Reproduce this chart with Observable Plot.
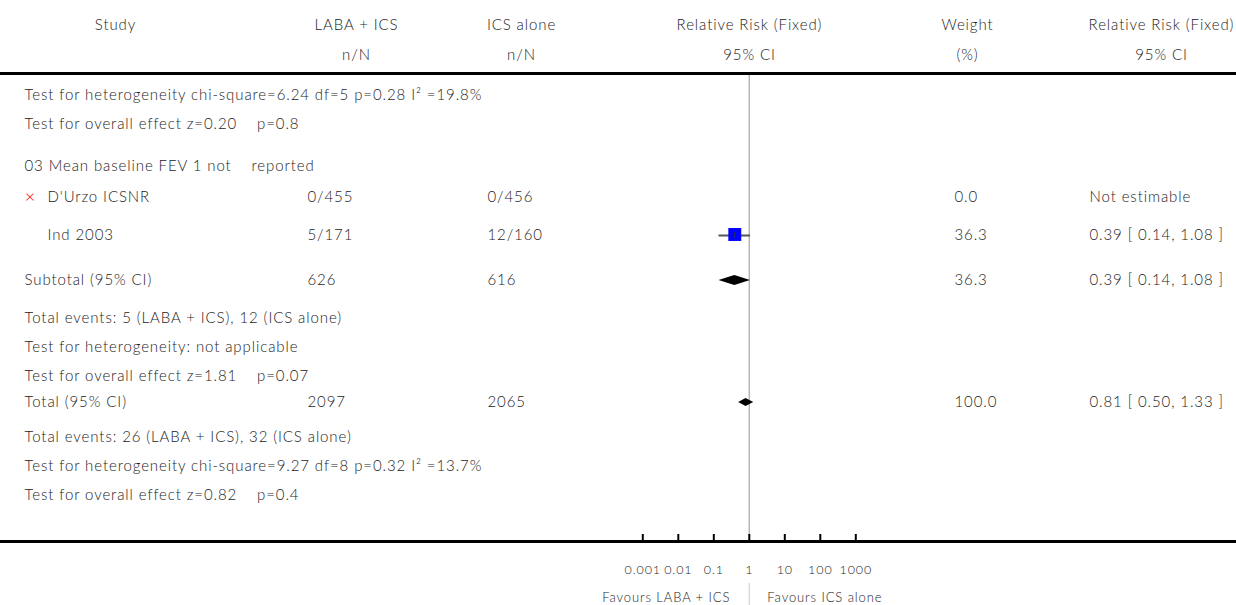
<!DOCTYPE html>
<html><head><meta charset="utf-8">
<script src="https://cdn.jsdelivr.net/npm/d3@7"></script>
<script src="https://cdn.jsdelivr.net/npm/@observablehq/plot@0.6"></script>
<style>body{margin:0;background:#fff} svg{display:block} svg text{letter-spacing:0.9px}</style>
</head><body><div id="chart"></div>
<script>
// ---------- data ----------
const headerTop = ["Study", "LABA + ICS", "ICS alone", "Relative Risk (Fixed)", "Weight", "Relative Risk (Fixed)"];
const headerBottom = ["", "n/N", "n/N", "95% CI", "(%)", "95% CI"];

const studyNames = ["D'Urzo ICSNR", "Ind 2003"];
const studyLaba = ["0/455", "5/171"];
const studyIcs = ["0/456", "12/160"];
const studyWeight = ["0.0", "36.3"];
const studyRR = [null, 0.39];
const studyLo = [null, 0.14];
const studyHi = [null, 1.08];
const studyRRText = ["Not estimable", "0.39 [ 0.14, 1.08 ]"];
const studyExcluded = [true, false];

const summaryNames = ["Subtotal (95% CI)", "Total (95% CI)"];
const summaryLaba = ["626", "2097"];
const summaryIcs = ["616", "2065"];
const summaryWeight = ["36.3", "100.0"];
const summaryRR = [0.39, 0.81];
const summaryLo = [0.14, 0.50];
const summaryHi = [1.08, 1.33];
const summaryRRText = ["0.39 [ 0.14, 1.08 ]", "0.81 [ 0.50, 1.33 ]"];

const noteLines = [
  "Test for heterogeneity chi-square=6.24 df=5 p=0.28 I\u00B2 =19.8%",
  "Test for overall effect z=0.20    p=0.8",
  "03 Mean baseline FEV 1 not    reported",
  "Total events: 5 (LABA + ICS), 12 (ICS alone)",
  "Test for heterogeneity: not applicable",
  "Test for overall effect z=1.81    p=0.07",
  "Total events: 26 (LABA + ICS), 32 (ICS alone)",
  "Test for heterogeneity chi-square=9.27 df=8 p=0.32 I\u00B2 =13.7%",
  "Test for overall effect z=0.82    p=0.4"
];

const axisTicks = [0.001, 0.01, 0.1, 1, 10, 100, 1000];
const axisTickLabels = ["0.001", "0.01", "0.1", "1", "10", "100", "1000"];
const favoursLabels = ["Favours LABA + ICS", "Favours ICS alone"];

// ---------- layout (pixel positions) ----------
const W = 1236, H = 605;
const headerCols = [115, 356, 521, 749, 967, 1161];
const colLeft = 24, colStudy = 47, colLaba = 307, colIcs = 487, colWeight = 954, colRR = 1089;
const yHead1 = 25, yHead2 = 55, yHeadLine = 73;
const noteY = [95, 124, 166, 318, 347, 376, 437, 466, 495];
const studyY = [197, 235];
const summaryY = [280, 402];
const summaryHalf = [5, 4];
const yAxis = 541, yTickLabel = 569, yFavours = 597;

// ---------- build tables ----------
const notes = noteLines.map((t, i) => ({t, y: noteY[i]}));
const studies = studyNames.map((name, i) => ({
  name, laba: studyLaba[i], ics: studyIcs[i], weight: studyWeight[i],
  rr: studyRR[i], lo: studyLo[i], hi: studyHi[i], rrText: studyRRText[i],
  excluded: studyExcluded[i], y: studyY[i]
}));
const summaries = summaryNames.map((name, i) => ({
  name, laba: summaryLaba[i], ics: summaryIcs[i], weight: summaryWeight[i],
  rr: summaryRR[i], lo: summaryLo[i], hi: summaryHi[i], rrText: summaryRRText[i], y: summaryY[i], h: summaryHalf[i]
}));
const estimable = studies.filter(d => d.rr != null);
const diamondPts = summaries.flatMap((d, k) => [
  {k, x: d.lo, y1: d.y, y2: d.y},
  {k, x: d.rr, y1: d.y - d.h, y2: d.y + d.h},
  {k, x: d.hi, y1: d.y, y2: d.y}
]);
const ticks = axisTicks.map((v, i) => ({v, label: axisTickLabels[i]}));

const txt = "#1c1c1c";
const fs = 15;
const colText = (data, field, dx) => Plot.text(data, {
  y: "y", text: field, frameAnchor: "left", dx, textAnchor: "start", fill: txt, fontSize: fs
});
const headerMarks = headerTop.flatMap((t, i) => [
  Plot.text([t], {y: () => yHead1, text: d => d, frameAnchor: "left", dx: headerCols[i], textAnchor: "middle", fill: txt, fontSize: fs}),
  Plot.text([headerBottom[i]], {y: () => yHead2, text: d => d, frameAnchor: "left", dx: headerCols[i], textAnchor: "middle", fill: txt, fontSize: fs})
]);

const plot = Plot.plot({
  width: W, height: H,
  marginTop: 0, marginRight: 0, marginBottom: 0, marginLeft: 0,
  style: {fontFamily: "Lato, 'Open Sans', sans-serif", fontWeight: 300, background: "#fff"},
  x: {type: "log", domain: [0.001, 1000], range: [642.3, 855.3], axis: null},
  y: {type: "linear", domain: [0, H], range: [0, H], axis: null},
  marks: [
    ...headerMarks,
    // vertical line at RR = 1
    Plot.ruleX([1], {y1: yHeadLine + 2, y2: yAxis, stroke: "#b5b5b5", strokeWidth: 1.5}),
    Plot.ruleX([1], {y1: yFavours - 14, y2: H, stroke: "#dcdcdc", strokeWidth: 1.5}),
    // horizontal rules
    Plot.ruleY([yHeadLine], {stroke: "#000", strokeWidth: 3}),
    Plot.ruleY([yAxis], {stroke: "#000", strokeWidth: 3}),
    // axis ticks
    Plot.ruleX(ticks, {x: "v", y1: yAxis - 7, y2: yAxis, stroke: "#000", strokeWidth: 2}),
    Plot.text(ticks, {x: "v", y: () => yTickLabel, text: "label", fill: txt, fontSize: 12.5}),
    Plot.text([favoursLabels[0]], {x: () => 1, y: () => yFavours, text: d => d, dx: -19, textAnchor: "end", fill: txt, fontSize: 13}),
    Plot.text([favoursLabels[1]], {x: () => 1, y: () => yFavours, text: d => d, dx: 18, textAnchor: "start", fill: txt, fontSize: 13}),
    // study CI lines + boxes
    Plot.ruleY(estimable, {y: "y", x1: "lo", x2: "hi", stroke: "#555", strokeWidth: 2}),
    Plot.dot(estimable, {x: "rr", y: d => d.y - 1, symbol: "square", r: 7.3, fill: "#0000ff", stroke: null}),
    Plot.ruleX(estimable, {x: "rr", y1: d => d.y - 3, y2: d => d.y + 3, stroke: "#333", strokeWidth: 1}),
    // diamonds
    Plot.areaY(diamondPts, {x: "x", y1: "y1", y2: "y2", z: "k", fill: "#000", curve: "linear"}),
    // excluded marker
    Plot.text(studies.filter(d => d.excluded), {y: "y", text: () => "\u00D7", frameAnchor: "left", dx: 30, textAnchor: "middle", fill: "#ff0000", fontSize: 18}),
    // notes
    colText(notes, "t", colLeft),
    // studies
    colText(studies, "name", colStudy),
    colText(studies, "laba", colLaba),
    colText(studies, "ics", colIcs),
    colText(studies, "weight", colWeight),
    colText(studies, "rrText", colRR),
    // summaries
    colText(summaries, "name", colLeft),
    colText(summaries, "laba", colLaba),
    colText(summaries, "ics", colIcs),
    colText(summaries, "weight", colWeight),
    colText(summaries, "rrText", colRR)
  ]
});

document.getElementById("chart").append(plot);
</script>
</body></html>
